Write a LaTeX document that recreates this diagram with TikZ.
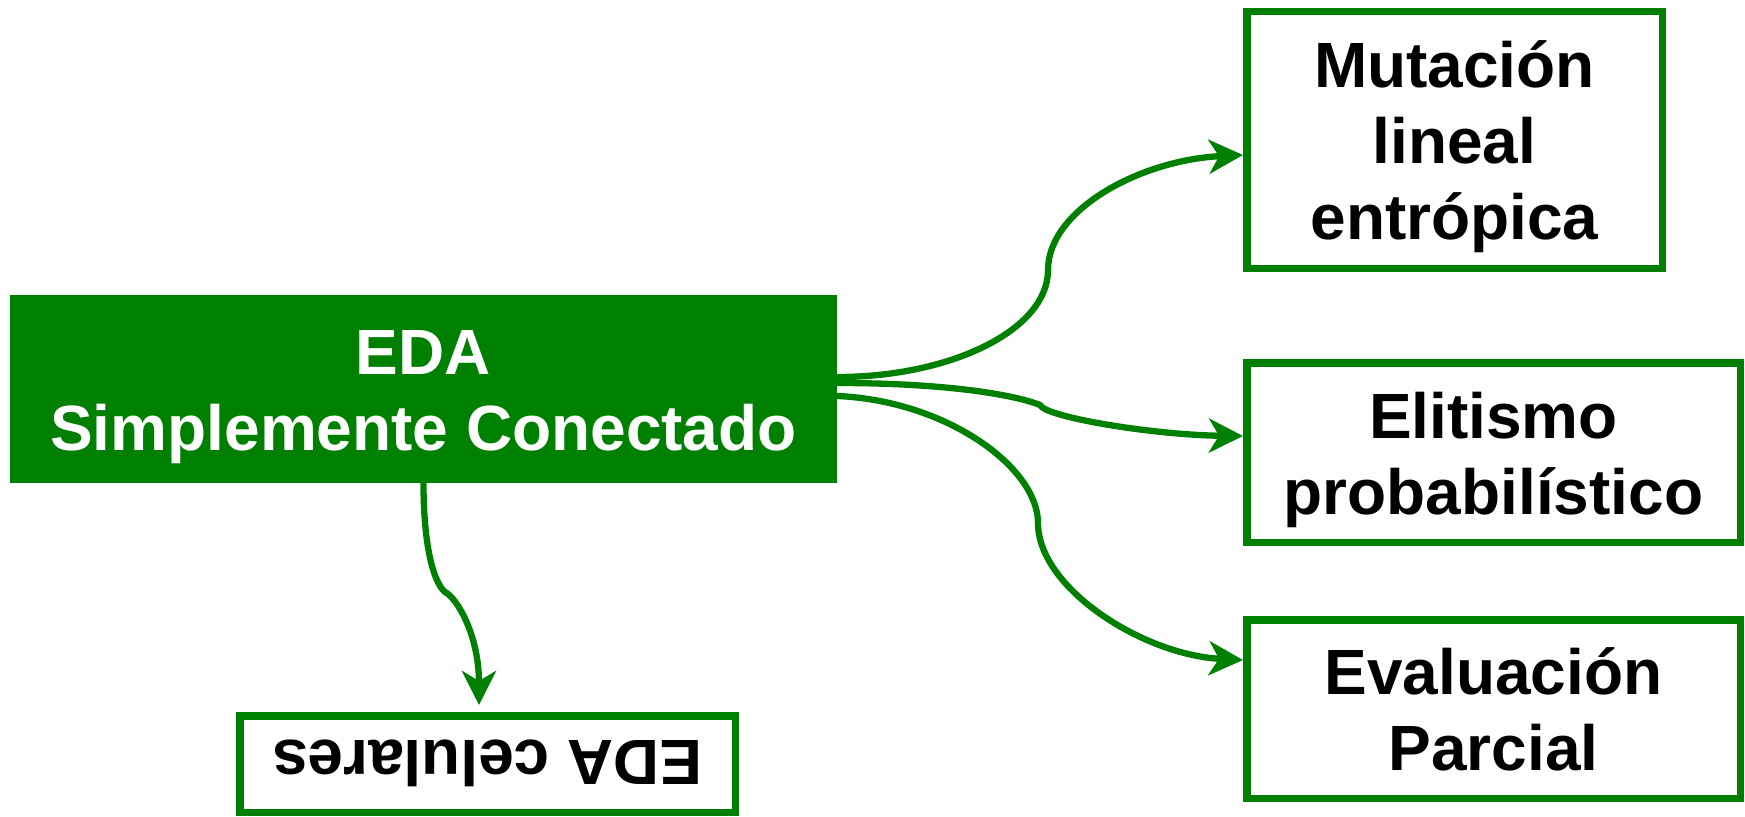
\documentclass[tikz,border=0pt]{standalone}
\usepackage{fontspec}
\setmainfont{Liberation Sans}
\usetikzlibrary{arrows.meta}
\newcommand{\linestrut}{\rule[-4.1pt]{0pt}{21.6pt}}

\begin{document}
\begin{tikzpicture}[
  every node/.style={font=\fontsize{18.2}{21.6}\selectfont\bfseries, align=center, inner sep=0pt},
  box/.style={draw=edagreen, line width=0.075cm, fill=white},
  link/.style={draw=edagreen, line width=0.063cm, line cap=round,
    -{Stealth[length=0.34cm, width=0.34cm, inset=0.1cm]}}]
  \definecolor{edagreen}{RGB}{0,128,0}
  \useasboundingbox (0,0) rectangle (17.45,-8.17);
  \node[fill=edagreen, text=white, minimum width=8.27cm, minimum height=1.88cm] (main) at (4.235,-3.89) {\linestrut EDA\\Simplemente Conectado\linestrut};
  \node[box, minimum width=4.155cm, minimum height=2.565cm] (mut) at (14.545,-1.40) {\linestrut Mutación\\lineal\\entrópica\linestrut};
  \node[box, minimum width=4.935cm, minimum height=1.795cm] (elit) at (14.935,-4.525) {\linestrut Elitismo\\probabilístico\linestrut};
  \node[box, minimum width=4.935cm, minimum height=1.785cm] (eval) at (14.935,-7.09) {\linestrut Evaluación\\Parcial\linestrut};
  \node[box, rotate=180, minimum width=4.955cm, minimum height=0.965cm] (cel) at (4.875,-7.64) {\linestrut EDA celulares};
  \coordinate (kmut) at (10.48,-2.70);
  \coordinate (kelit) at (10.40,-4.05);
  \coordinate (keval) at (10.38,-5.23);
  \coordinate (kcel) at (4.45,-5.92);
  \draw[link] ([yshift=0.12cm]main.east) .. controls +(1.13,0) and +(0,-0.6) .. (kmut)
    .. controls +(0,0.6) and +(-1.03,-0.05) .. ([yshift=-0.15cm]mut.west);
  \draw[link] ([yshift=0.06cm]main.east) .. controls +(1.1,0) and +(-0.25,0.1) .. (kelit)
    .. controls +(0.05,-0.12) and +(-0.9,0.01) .. ([yshift=0.165cm]elit.west);
  \draw[link] ([yshift=-0.07cm]main.east) .. controls +(1.1,-0.05) and +(0,0.55) .. (keval)
    .. controls +(0,-0.65) and +(-1.0,0.05) .. ([yshift=0.49cm]eval.west);
  \draw[link] (main.south) .. controls +(0,-0.6) and +(-0.12,0.1) .. (kcel)
    .. controls +(0.12,-0.06) and +(0,0.7) .. ([xshift=-0.085cm,yshift=0.07cm]cel.south);
\end{tikzpicture}
\end{document}
